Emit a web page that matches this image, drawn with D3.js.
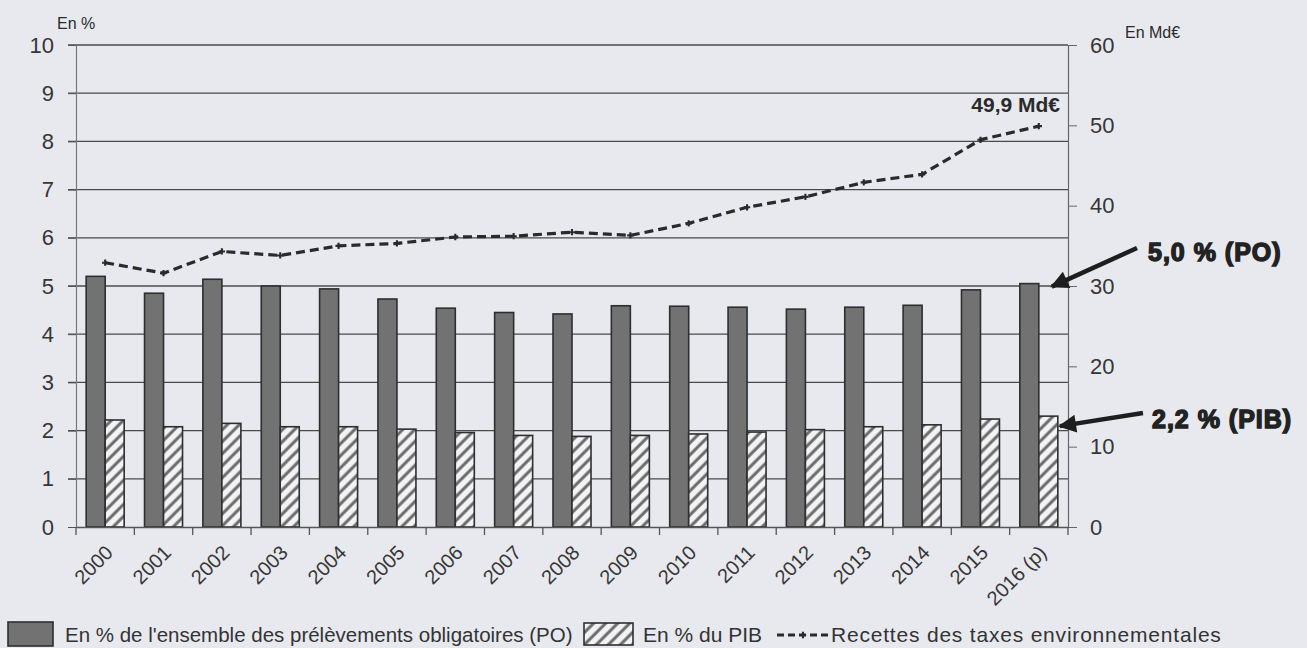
<!DOCTYPE html>
<html>
<head>
<meta charset="utf-8">
<script src="https://d3js.org/d3.v7.min.js"></script>
<style>
  body { margin: 0; background: #e8e9ef; }
  svg { display: block; font-family: "Liberation Sans", Arial, sans-serif; }
  .tick text { fill: #363636; }
  .annot { font-weight: bold; fill: #222; stroke: #222; stroke-width: 1.4px; letter-spacing: 1px; }
</style>
</head>
<body>
<svg width="1307" height="648"></svg>
<script>
// données
var annees = ["2000","2001","2002","2003","2004","2005","2006","2007","2008",
              "2009","2010","2011","2012","2013","2014","2015","2016 (p)"];
// en % de l'ensemble des prélèvements obligatoires
var partPO = [5.2, 4.85, 5.14, 5.0, 4.94, 4.73, 4.54, 4.45, 4.42,
              4.59, 4.58, 4.56, 4.52, 4.56, 4.6, 4.92, 5.05];
// en % du PIB
var partPIB = [2.22, 2.08, 2.15, 2.08, 2.08, 2.03, 1.96, 1.9, 1.88,
               1.9, 1.93, 1.97, 2.02, 2.08, 2.12, 2.24, 2.3];
// recettes des taxes environnementales, en Md€
var recettes = [32.9, 31.6, 34.3, 33.8, 35.0, 35.3, 36.1, 36.2, 36.7,
                36.3, 37.8, 39.8, 41.1, 42.9, 43.9, 48.2, 49.9];
var ticksGauche = [0,1,2,3,4,5,6,7,8,9,10];
var ticksDroite = [0,10,20,30,40,50,60];

var svg = d3.select("svg");
var mLeft = 76, mRight = 1068, mTop = 45, mBottom = 527;

var x = d3.scaleBand().domain(annees).range([mLeft, mRight]);
var yPct = d3.scaleLinear().domain([0, 10]).range([mBottom, mTop]);
var yMd = d3.scaleLinear().domain([0, 60]).range([mBottom, mTop]);
var barW = 19;

// hachures pour la série PIB
var defs = svg.append("defs");
defs.append("pattern")
  .attr("id", "hatch")
  .attr("patternUnits", "userSpaceOnUse")
  .attr("width", 8.5).attr("height", 8.5)
  .attr("patternTransform", "rotate(45)")
  .call(function(p) {
    p.append("rect").attr("width", 8.5).attr("height", 8.5).attr("fill", "#f3f3f5");
    p.append("line").attr("x1", 2).attr("x2", 2).attr("y1", 0).attr("y2", 8.5)
      .attr("stroke", "#6a6a6a").attr("stroke-width", 3);
  });

// grille horizontale
svg.append("g")
  .selectAll("line")
  .data(ticksGauche.slice(1))
  .enter().append("line")
  .attr("x1", mLeft - 8).attr("x2", mRight)
  .attr("y1", function(d) { return yPct(d); })
  .attr("y2", function(d) { return yPct(d); })
  .attr("stroke", "#4a4a4a").attr("stroke-width", 1.3);

// axe gauche
var axeG = svg.append("g")
  .attr("transform", "translate(" + mLeft + ",0)")
  .call(d3.axisLeft(yPct).tickValues(ticksGauche).tickSize(8).tickPadding(14));
axeG.select(".domain").attr("stroke", "#777").attr("stroke-width", 1.2);
axeG.selectAll(".tick line").attr("stroke", "#555");
axeG.selectAll(".tick text").style("font-size", "22px");

// axe droit
var axeD = svg.append("g")
  .attr("transform", "translate(" + mRight + ",0)")
  .call(d3.axisRight(yMd).tickValues(ticksDroite).tickSize(9).tickPadding(13));
axeD.select(".domain").attr("stroke", "#666").attr("stroke-width", 1.2);
axeD.selectAll(".tick line").attr("stroke", "#666");
axeD.selectAll(".tick text").style("font-size", "22px");

// barres
var grp = svg.append("g").selectAll("g")
  .data(annees)
  .enter().append("g");

grp.append("rect")
  .attr("x", function(d) { return x(d) + x.bandwidth() / 2 - barW; })
  .attr("y", function(d, i) { return yPct(partPO[i]); })
  .attr("width", barW)
  .attr("height", function(d, i) { return mBottom - yPct(partPO[i]); })
  .attr("fill", "#727272").attr("stroke", "#2e2e2e").attr("stroke-width", 1.6);

grp.append("rect")
  .attr("x", function(d) { return x(d) + x.bandwidth() / 2; })
  .attr("y", function(d, i) { return yPct(partPIB[i]); })
  .attr("width", barW)
  .attr("height", function(d, i) { return mBottom - yPct(partPIB[i]); })
  .attr("fill", "url(#hatch)").attr("stroke", "#2e2e2e").attr("stroke-width", 1.6);

// axe des abscisses
var axeX = svg.append("g")
  .attr("transform", "translate(0," + mBottom + ")")
  .call(d3.axisBottom(x).tickSize(0).tickPadding(0));
axeX.select(".domain").attr("stroke", "#555").attr("stroke-width", 1.3);
axeX.selectAll(".tick text")
  .style("font-size", "20px")
  .attr("text-anchor", "end")
  .attr("dy", "0.35em")
  .attr("transform", "translate(4,22) rotate(-45)");
axeX.selectAll(".sep")
  .data(d3.range(annees.length + 1))
  .enter().append("line")
  .attr("x1", function(i) { return mLeft + i * x.step(); })
  .attr("x2", function(i) { return mLeft + i * x.step(); })
  .attr("y1", 0).attr("y2", 8)
  .attr("stroke", "#555").attr("stroke-width", 1.3);

// courbe des recettes
var ligne = d3.line()
  .x(function(d, i) { return x(annees[i]) + x.bandwidth() / 2; })
  .y(function(d) { return yMd(d); });
svg.append("path")
  .datum(recettes)
  .attr("d", ligne)
  .attr("fill", "none")
  .attr("stroke", "#2a2a2a")
  .attr("stroke-width", 3.2)
  .attr("stroke-dasharray", "9,5");
svg.append("g").selectAll("path")
  .data(recettes)
  .enter().append("path")
  .attr("d", d3.symbol(d3.symbolCross, 22))
  .attr("transform", function(d, i) {
    return "translate(" + (x(annees[i]) + x.bandwidth() / 2) + "," + yMd(d) + ")";
  })
  .attr("fill", "#2a2a2a");

// unités
svg.append("text").attr("x", 57).attr("y", 29).text("En %")
  .style("font-size", "16px").attr("fill", "#2a2a2a");
svg.append("text").attr("x", 1125).attr("y", 38).text("En Md€")
  .style("font-size", "16px").attr("fill", "#2a2a2a");

// annotations
var nLast = annees.length - 1;
var cLast = x(annees[nLast]) + x.bandwidth() / 2;
svg.append("text")
  .attr("x", mRight - 8).attr("y", 112)
  .attr("text-anchor", "end")
  .style("font-size", "21px").style("font-weight", "bold").attr("fill", "#2a2a2a")
  .text("49,9 Md€");

defs.append("marker")
  .attr("id", "fleche")
  .attr("viewBox", "0 0 10 10")
  .attr("refX", 9).attr("refY", 5)
  .attr("markerWidth", 5).attr("markerHeight", 4)
  .attr("markerUnits", "strokeWidth")
  .attr("orient", "auto")
  .append("path").attr("d", "M0,0 L10,5 L0,10 z").attr("fill", "#1e1e1e");

function fleche(x1, y1, x2, y2) {
  svg.append("line")
    .attr("x1", x1).attr("y1", y1).attr("x2", x2).attr("y2", y2)
    .attr("stroke", "#1e1e1e").attr("stroke-width", 4.5)
    .attr("marker-end", "url(#fleche)");
}
fleche(1137, 248, cLast + 13, yPct(partPO[nLast]) + 3);
fleche(1143, 413, cLast + barW + 2, yPct(partPIB[nLast]) + 10);

svg.append("text").attr("class", "annot")
  .attr("x", 1148).attr("y", 261).style("font-size", "25px").text("5,0 % (PO)");
svg.append("text").attr("class", "annot")
  .attr("x", 1152).attr("y", 428).style("font-size", "25px").text("2,2 % (PIB)");

// légende
var leg = svg.append("g").style("font-size", "20.5px").attr("fill", "#333");
leg.append("rect").attr("x", 8).attr("y", 622).attr("width", 45).attr("height", 24)
  .attr("fill", "#727272").attr("stroke", "#2e2e2e").attr("stroke-width", 1.6);
leg.append("text").attr("x", 65).attr("y", 642)
  .text("En % de l'ensemble des prélèvements obligatoires (PO)");
leg.append("rect").attr("x", 584).attr("y", 623).attr("width", 49).attr("height", 22)
  .attr("fill", "url(#hatch)").attr("stroke", "#2e2e2e").attr("stroke-width", 1.6);
leg.append("text").attr("x", 643).attr("y", 642).style("font-size", "21px").text("En % du PIB");
leg.append("line").attr("x1", 777).attr("x2", 829).attr("y1", 635).attr("y2", 635)
  .attr("stroke", "#2a2a2a").attr("stroke-width", 3).attr("stroke-dasharray", "7,4");
leg.append("path").attr("d", d3.symbol(d3.symbolCross, 22))
  .attr("transform", "translate(803,635)").attr("fill", "#2a2a2a");
leg.append("text").attr("x", 831).attr("y", 642)
  .style("font-size", "21px").style("letter-spacing", "0.8px")
  .text("Recettes des taxes environnementales");
</script>
</body>
</html>
